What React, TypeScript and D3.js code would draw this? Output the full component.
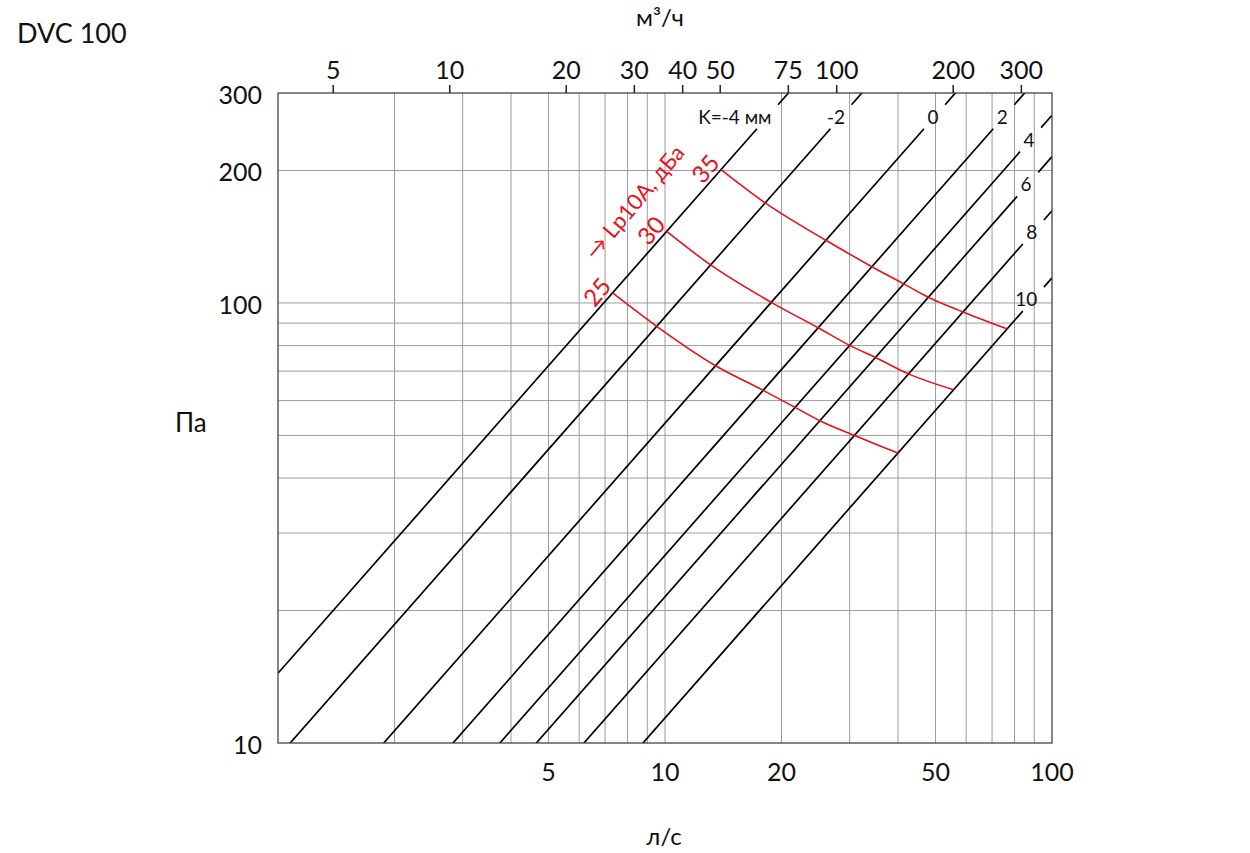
import React from "react";
import * as d3 from "d3";

const WIDTH = 1250;
const HEIGHT = 853;
const PLOT = { left: 278, right: 1052, top: 93, bottom: 743 };
const FONT = "Lato, 'Noto Sans', sans-serif";
const RED = "#e8101a";

// air flow: l/s on the bottom, m³/h on the top
const bottomTicks = [5, 10, 20, 50, 100];
const topTicks = [5, 10, 20, 30, 40, 50, 75, 100, 200, 300];
const xGrid = [2, 3, 4, 5, 6, 7, 8, 9, 10, 20, 30, 40, 50, 60, 70, 80, 90];
const M3H_PER_LS = 3.6;

// pressure, Pa
const leftTicks = [10, 100, 200, 300];
const yGrid = [20, 30, 40, 50, 60, 70, 80, 90, 100, 200];

// damper setting K, mm: Pa per l/s along each line, and Pa where its label sits
const kLabels = ["K=-4 мм", "-2", "0", "2", "4", "6", "8", "10"];
const kCoef = [14.4, 9.3, 5.33, 3.53, 2.67, 2.15, 1.62, 1.14];
const kLabelPa = [265, 265, 265, 265, 235, 186, 145, 102];

// sound level Lp10A, dBA: pressure where each curve crosses the K lines (K=-4 .. 10)
const lpLabels = ["25", "30", "35"];
const lp25 = [105.4, 88.5, 72.0, 63.3, 57.9, 54.0, 50.0, 45.6];
const lp30 = [145.4, 122.0, 100.3, 87.8, 80.1, 75.2, 69.0, 63.5];
const lp35 = [200.9, 168.8, 138.8, 120.9, 110.5, 103.0, 95.4, 87.3];

const App = () => {
  const x = d3.scaleLog().domain([1, 100]).range([PLOT.left, PLOT.right]);
  const y = d3.scaleLog().domain([10, 300]).range([PLOT.bottom, PLOT.top]);

  // gap in the K lines around their labels
  const gap = Math.pow(10, 12 / 440);

  const curve = d3
    .line<[number, number]>()
    .x((d) => x(d[0]))
    .y((d) => y(d[1]))
    .curve(d3.curveMonotoneX);

  const lpSeries = [lp25, lp30, lp35];

  const kLines = kCoef.map((c, i) => {
    const p = kLabelPa[i];
    const segs: [number, number][][] = [
      [
        [1, c],
        [p / gap / c, p / gap],
      ],
      [
        [(p * gap) / c, p * gap],
        [100, 100 * c],
      ],
    ];
    return (
      <g key={i}>
        {segs.map((s, j) => (
          <line
            key={j}
            x1={x(s[0][0])}
            y1={y(s[0][1])}
            x2={x(s[1][0])}
            y2={y(s[1][1])}
            stroke="#000"
            strokeWidth={1.7}
            clipPath="url(#plot-clip)"
          />
        ))}
        <text
          x={x(p / c) + 4}
          y={y(p) + 7}
          textAnchor="end"
          fontSize={19}
          fill="#111"
        >
          {kLabels[i]}
        </text>
      </g>
    );
  });

  const startOf = (vals: number[]) => [x(vals[0] / kCoef[0]), y(vals[0])];
  const s25 = startOf(lp25);

  return (
    <svg
      width={WIDTH}
      height={HEIGHT}
      style={{ position: "absolute", left: 0, top: 0, background: "#fff" }}
      fontFamily={FONT}
    >
      <defs>
        <clipPath id="plot-clip">
          <rect
            x={PLOT.left}
            y={PLOT.top}
            width={PLOT.right - PLOT.left}
            height={PLOT.bottom - PLOT.top}
          />
        </clipPath>
      </defs>

      <text x={17} y={43} fontSize={27} fill="#111">
        DVC 100
      </text>

      {/* grid */}
      {xGrid.map((v) => (
        <line
          key={"gx" + v}
          x1={x(v)}
          x2={x(v)}
          y1={PLOT.top}
          y2={PLOT.bottom}
          stroke="#9c9c9c"
          strokeWidth={1}
        />
      ))}
      {yGrid.map((v) => (
        <line
          key={"gy" + v}
          x1={PLOT.left}
          x2={PLOT.right}
          y1={y(v)}
          y2={y(v)}
          stroke="#9c9c9c"
          strokeWidth={1}
        />
      ))}

      {kLines}

      {/* sound level curves */}
      {lpSeries.map((vals, i) => {
        const pts = vals.map((p, j) => [p / kCoef[j], p] as [number, number]);
        const [sx, sy] = startOf(vals);
        return (
          <g key={"lp" + i}>
            <path d={curve(pts) ?? ""} fill="none" stroke={RED} strokeWidth={1.6} />
            <text
              transform={`translate(${sx},${sy - 6}) rotate(-50)`}
              textAnchor="end"
              fontSize={24}
              fill={RED}
            >
              {lpLabels[i]}
            </text>
          </g>
        );
      })}
      <text
        transform={`translate(${s25[0] - 17},${s25[1] - 32}) rotate(-50)`}
        fontSize={22}
        fill={RED}
      >
        → Lp10A, дБа
      </text>

      {/* frame */}
      <rect
        x={PLOT.left}
        y={PLOT.top}
        width={PLOT.right - PLOT.left}
        height={PLOT.bottom - PLOT.top}
        fill="none"
        stroke="#444"
        strokeWidth={1.3}
      />

      {/* top axis, m³/h */}
      {topTicks.map((v) => {
        const tx = x(v / M3H_PER_LS);
        return (
          <g key={"t" + v}>
            <line x1={tx} x2={tx} y1={85} y2={PLOT.top} stroke="#222" strokeWidth={1.5} />
            <text x={tx} y={79} textAnchor="middle" fontSize={25} fill="#111">
              {v}
            </text>
          </g>
        );
      })}
      <text x={660} y={26} textAnchor="middle" fontSize={24} fill="#111">
        м³/ч
      </text>

      {/* bottom axis, l/s */}
      {bottomTicks.map((v) => (
        <text key={"b" + v} x={x(v)} y={781} textAnchor="middle" fontSize={25} fill="#111">
          {v}
        </text>
      ))}
      <text x={664} y={845} textAnchor="middle" fontSize={24} fill="#111">
        л/с
      </text>

      {/* left axis, Pa */}
      {leftTicks.map((v) => (
        <text key={"l" + v} x={262} y={y(v) + 11} textAnchor="end" fontSize={25} fill="#111">
          {v}
        </text>
      ))}
      <text x={175} y={432} fontSize={26} fill="#111">
        Па
      </text>
    </svg>
  );
};

export default App;
